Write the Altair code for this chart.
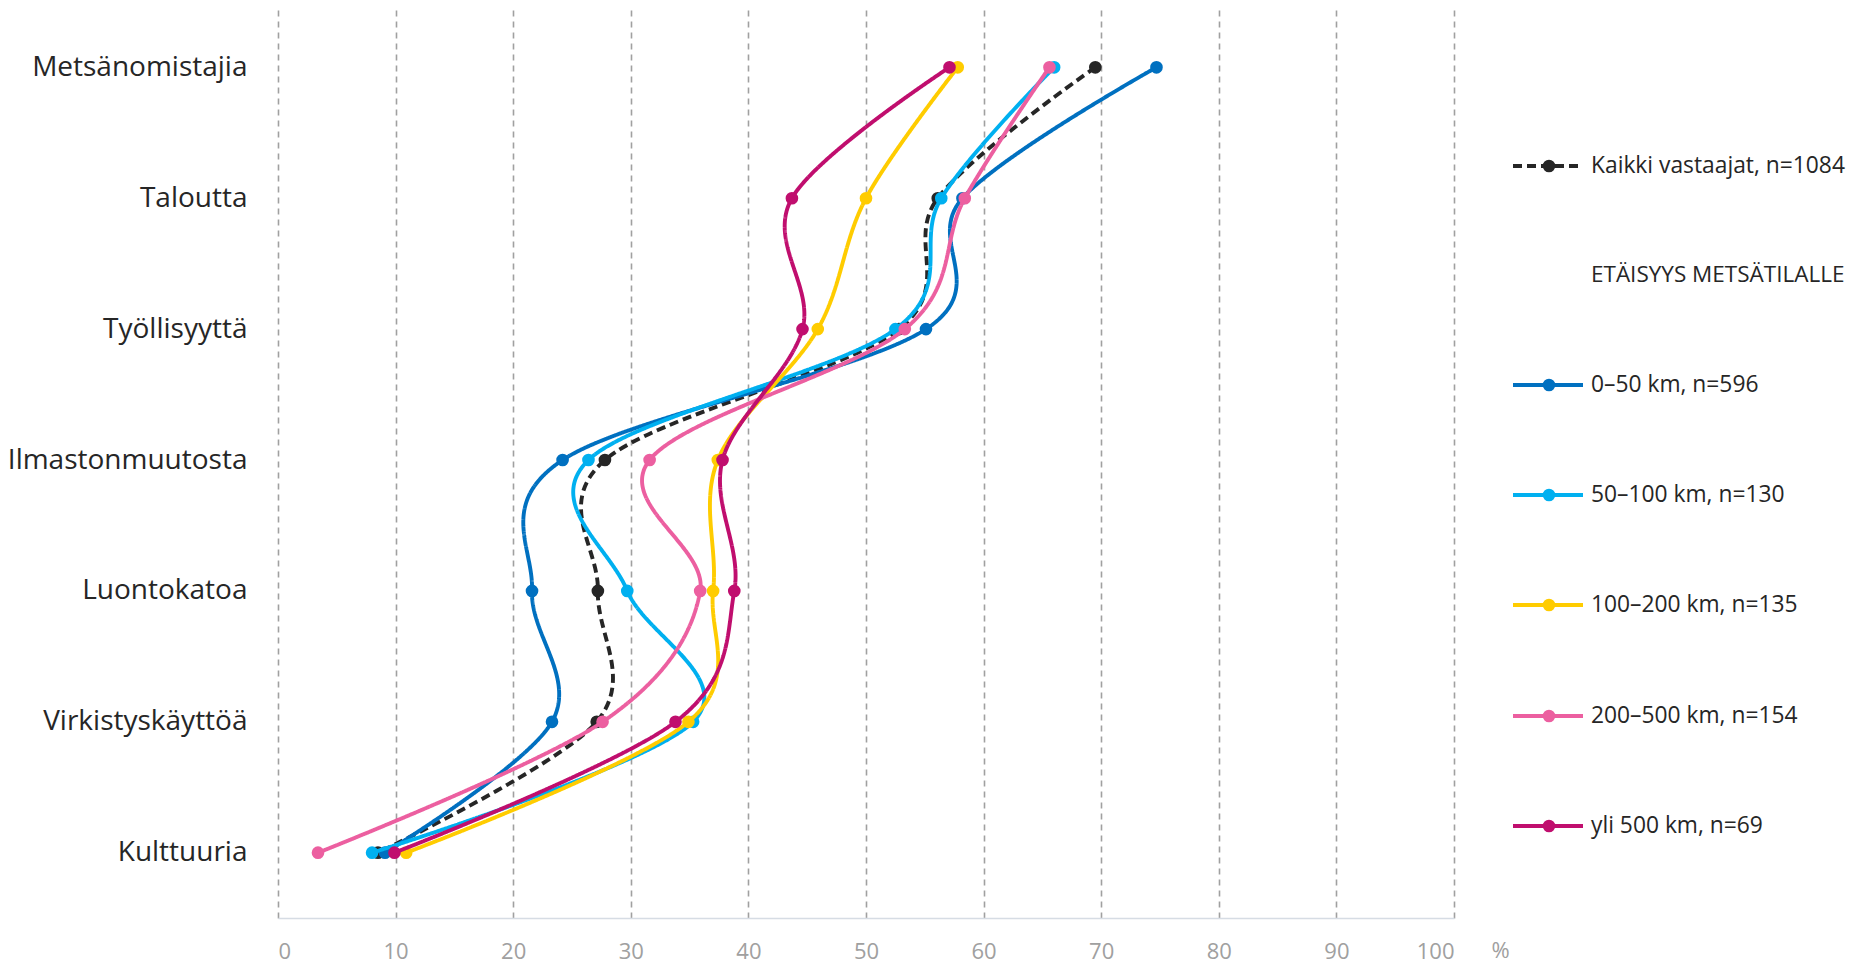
import altair as alt
import pandas as pd

categories = ["Metsänomistajia", "Taloutta", "Työllisyyttä", "Ilmastonmuutosta",
              "Luontokatoa", "Virkistyskäyttöä", "Kulttuuria"]

series_names = ["Kaikki vastaajat, n=1084", "0–50 km, n=596", "50–100 km, n=130",
                "100–200 km, n=135", "200–500 km, n=154", "yli 500 km, n=69"]

kaikki = [69.5, 56.1, 52.8, 27.8, 27.2, 27.1, 8.5]
km_0_50 = [74.7, 58.2, 55.1, 24.2, 21.6, 23.3, 9.1]
km_50_100 = [66.0, 56.4, 52.5, 26.4, 29.7, 35.3, 8.0]
km_100_200 = [57.8, 50.0, 45.9, 37.4, 37.0, 34.9, 10.9]
km_200_500 = [65.6, 58.4, 53.3, 31.6, 35.9, 27.6, 3.4]
yli_500 = [57.1, 43.7, 44.6, 37.8, 38.8, 33.8, 9.9]

series_values = [kaikki, km_0_50, km_50_100, km_100_200, km_200_500, yli_500]
colors = ["#262626", "#0070C0", "#00B0F0", "#FFCC00", "#EC5FA0", "#C00E6E"]
legend_header = "ETÄISYYS METSÄTILALLE"

FONT = "Open Sans"
W, H = 1176, 910

X = alt.X("value:Q",
          scale=alt.Scale(domain=[0, 100], nice=False, zero=True),
          axis=alt.Axis(values=list(range(0, 101, 10)), title="%",
                        grid=True, gridColor="#a0a0a0", gridDash=[6, 5], gridWidth=1.6,
                        domain=True, domainColor="#d6dce4", domainWidth=1.5,
                        ticks=False, tickSize=0, labelPadding=23,
                        labelFont=FONT, labelFontSize=22, labelColor="#a0a0a0",
                        titleFont=FONT, titleFontSize=22, titleColor="#a0a0a0",
                        titleFontWeight="normal", titleX=1222, titleY=32,
                        titleAlign="center", titleBaseline="middle"))
Y = alt.Y("category:N", sort=categories,
          scale=alt.Scale(domain=categories, padding=0.476, align=0.476),
          axis=alt.Axis(title=None, domain=False, ticks=False, tickSize=0, grid=False,
                        labelPadding=31, labelFont=FONT, labelFontSize=28,
                        labelColor="#262626", labelLimit=400))

layers = []
for name, vals, col in zip(series_names, series_values, colors):
    df = pd.DataFrame({"category": categories, "value": vals,
                       "idx": list(range(len(categories))), "series": name})
    dash = [9, 5] if name.startswith("Kaikki") else [1, 0]
    line = alt.Chart(df).mark_line(interpolate="cardinal", strokeWidth=3.9, color=col,
                                   strokeDash=dash, strokeCap="butt").encode(
        x=X, y=Y, order=alt.Order("idx:Q"))
    pts = alt.Chart(df).mark_circle(size=160, opacity=1, color=col).encode(x=X, y=Y)
    layers += [line, pts]

# custom legend (layout positions in pixels, relative to plot origin)
leg_x0, leg_x1, leg_dot, leg_text = 1235, 1305, 1271, 1313
row_y = [158, 267, 377, 487, 597, 708, 818]
rows = [0, 2, 3, 4, 5, 6]
for (name, col, r) in zip(series_names, colors, rows):
    yy = row_y[r]
    d = pd.DataFrame({"label": [name]})
    dash = [9, 5] if name.startswith("Kaikki") else [1, 0]
    layers.append(alt.Chart(d).mark_rule(color=col, strokeWidth=3.9, strokeDash=dash).encode(
        x=alt.value(leg_x0), x2=alt.value(leg_x1), y=alt.value(yy)))
    layers.append(alt.Chart(d).mark_circle(size=160, opacity=1, color=col).encode(
        x=alt.value(leg_dot), y=alt.value(yy)))
    layers.append(alt.Chart(d).mark_text(align="left", baseline="middle", font=FONT,
                                         fontSize=22.8, color="#262626").encode(
        x=alt.value(leg_text), y=alt.value(yy), text="label:N"))

hd = pd.DataFrame({"label": [legend_header]})
layers.append(alt.Chart(hd).mark_text(align="left", baseline="middle", font=FONT,
                                      fontSize=22.5, color="#262626").encode(
    x=alt.value(leg_text), y=alt.value(row_y[1]), text="label:N"))

chart = alt.layer(*layers).properties(
    width=W, height=H,
    autosize=alt.AutoSizeParams(type="none"),
    padding={"left": 270, "top": 0, "right": 396, "bottom": 46},
).configure_view(stroke=None)

chart.save("out.html", embed_options={"renderer": "svg", "actions": False})
